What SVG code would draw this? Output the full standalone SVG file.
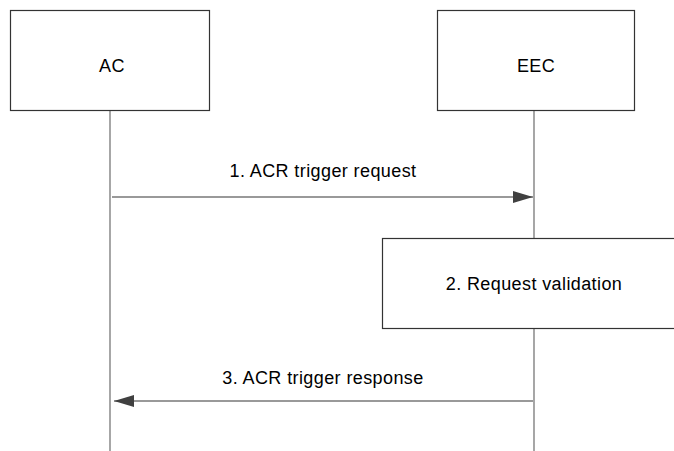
<svg xmlns="http://www.w3.org/2000/svg" width="674" height="451" viewBox="0 0 674 451">
<style>
.box{fill:#fff;stroke:#333;stroke-width:1.2}
.life{stroke:#777;stroke-width:1.3;fill:none}
.msg{stroke:#777;stroke-width:1.3;fill:none}
text{font-family:"Liberation Sans",Arial,sans-serif;font-size:18px;letter-spacing:0.4px;fill:#000;text-anchor:middle}
</style>
<defs>
<marker id="ah" markerWidth="20" markerHeight="12" refX="20" refY="6" orient="auto" markerUnits="userSpaceOnUse">
<path d="M0,0 L20,6 L0,12 Z" fill="#404040"/>
</marker>
</defs>
<g id="lifelines">
<line class="life" x1="110" y1="110" x2="110" y2="451"/>
<line class="life" x1="534" y1="110" x2="534" y2="451"/>
</g>
<g id="AC">
<rect class="box" x="10.5" y="10.5" width="199" height="100"/>
<text x="112" y="72">AC</text>
</g>
<g id="EEC">
<rect class="box" x="437.5" y="10.5" width="197" height="100"/>
<text x="536" y="72">EEC</text>
</g>
<g id="step2">
<rect class="box" x="382.5" y="238.5" width="300" height="90"/>
<text x="534" y="290">2. Request validation</text>
</g>
<g id="connectors">
<line class="msg" x1="112" y1="197" x2="533" y2="197" marker-end="url(#ah)"/>
<text x="323" y="177">1. ACR trigger request</text>
<line class="msg" x1="533" y1="401" x2="114" y2="401" marker-end="url(#ah)"/>
<text x="323" y="384">3. ACR trigger response</text>
</g>
</svg>
